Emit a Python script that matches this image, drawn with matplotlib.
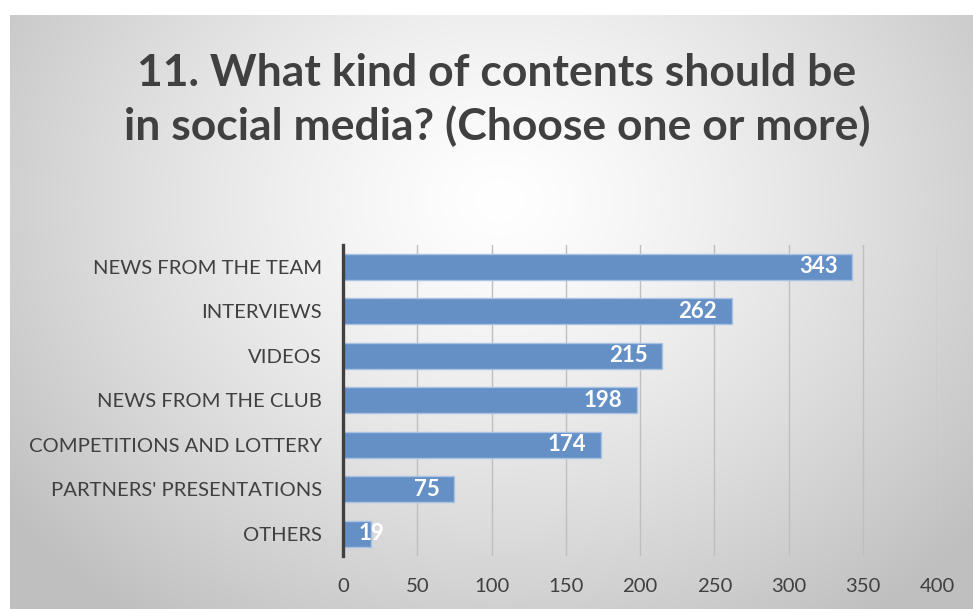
import numpy as np
from matplotlib import pyplot as plt

## Survey answers
categories = ['NEWS FROM THE TEAM', 'INTERVIEWS', 'VIDEOS', 'NEWS FROM THE CLUB',
              'COMPETITIONS AND LOTTERY', "PARTNERS' PRESENTATIONS", 'OTHERS']
answers = [343, 262, 215, 198, 174, 75, 19]
xticks = [0, 50, 100, 150, 200, 250, 300, 350, 400]
title = '11. What kind of contents should be\nin social media? (Choose one or more)'

W, H = 973, 609
fig = plt.figure(figsize=(W / 100, H / 100), dpi=100)
fig.patch.set_facecolor('white')

# radial grey background behind the chart area
bg = fig.add_axes([10 / W, 0, (W - 10) / W, (H - 15) / H])
bg.set_axis_off()
nx, ny = 400, 250
xx, yy = np.meshgrid(np.linspace(10, W, nx), np.linspace(15, H, ny))
r = np.sqrt(((xx - 500) / 620) ** 2 + ((yy - 200) / 520) ** 2)
shade = 1.0 - 0.25 * np.clip(r, 0, 1) ** 1.3
bg.imshow(np.dstack([shade] * 3), aspect='auto', extent=(0, 1, 0, 1), origin='upper')

ax = fig.add_axes([343 / W, 53 / H, (937 - 343) / W, (364.5 - 53) / H])
ax.patch.set_alpha(0)
ypos = np.arange(len(categories))
ax.barh(ypos, answers, height=0.58, color='#6590c6', edgecolor='#a9c1e2',
        linewidth=1.0, zorder=3)
ax.set_ylim(len(categories) - 0.5, -0.5)
ax.set_xlim(0, 400)
ax.set_xticks(xticks)
ax.set_yticks(ypos)
ax.set_yticklabels(categories)
ax.grid(axis='x', color='#bfbfbf', linewidth=1.0, zorder=0)
for s in ['top', 'right', 'bottom']:
    ax.spines[s].set_visible(False)
ax.spines['left'].set_color('#404040')
ax.spines['left'].set_linewidth(2.4)
ax.spines['left'].set_zorder(4)
ax.tick_params(axis='both', length=0, labelsize=14.6, labelcolor='#404040')
ax.tick_params(axis='y', pad=15)
ax.tick_params(axis='x', pad=16)
for lab in ax.get_xticklabels() + ax.get_yticklabels():
    lab.set_fontfamily('Lato')

for i, v in enumerate(answers):
    if v < 40:
        ax.text(v, i, str(v), ha='center', va='center', color='white',
                fontsize=16, fontweight='bold', family='Lato', zorder=5)
    else:
        ax.text(v - 10, i, str(v), ha='right', va='center', color='white',
                fontsize=16, fontweight='bold', family='Lato', zorder=5)

fig.text(497 / W, 1 - 100 / H, title, ha='center', va='center', fontsize=32,
         fontweight='bold', color='#404040', family='Lato', linespacing=1.35)

plt.savefig('out.png', dpi=100)
